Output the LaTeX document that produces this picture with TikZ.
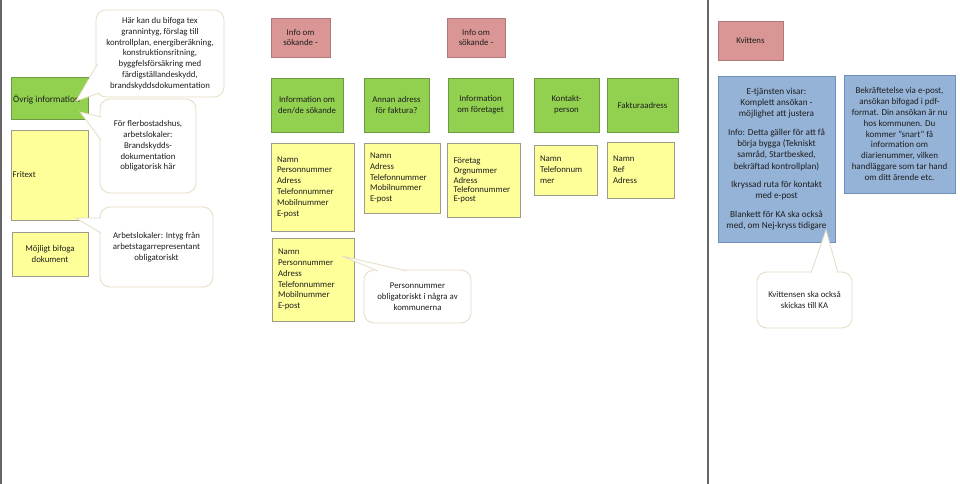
\documentclass[tikz,border=0pt]{standalone}
\usepackage{fontspec}
\setmainfont{Carlito}
\definecolor{gfill}{HTML}{92D050}
\definecolor{gline}{HTML}{6F9A45}
\definecolor{pfill}{HTML}{D99694}
\definecolor{pline}{HTML}{B07A78}
\definecolor{yfill}{HTML}{FFFF99}
\definecolor{yline}{HTML}{9C9C8C}
\definecolor{bfill}{HTML}{95B3D7}
\definecolor{bline}{HTML}{7090BA}
\definecolor{cline}{HTML}{E6DCC4}
\definecolor{vlcol}{HTML}{666666}
\definecolor{txt}{HTML}{1E1E1E}
\tikzset{
  basebox/.style={draw, line width=0.8pt, inner sep=0pt, text=txt,
    font=\fontsize{8.8}{10.8}\selectfont, align=center},
  gbox/.style={basebox, fill=gfill, draw=gline},
  pbox/.style={basebox, fill=pfill, draw=pline},
  ybox/.style={basebox, fill=yfill, draw=yline},
  listbox/.style={ybox, align=left, inner xsep=6pt},
  bluebox/.style={basebox, fill=bfill, draw=bline, font=\fontsize{9.2}{11.2}\selectfont},
  cbox/.style={basebox, fill=white, draw=cline, rounded corners=10pt},
  tailfill/.style={fill=white},
  tailline/.style={draw=cline, line width=0.8pt},
  vl/.style={draw=vlcol, line width=2pt},
  plain/.style={inner sep=0pt, text=txt, font=\fontsize{8.8}{10.8}\selectfont}
}
\begin{document}
\begin{tikzpicture}[x=1pt,y=-1pt]
\useasboundingbox (0,0) rectangle (960,484);
\fill[white] (0,0) rectangle (960,484);

% vertical separators
\draw[vl] (1,0) -- (1,484);
\draw[vl] (708,0) -- (708,484);

% left column
\node[gbox, minimum width=77pt, minimum height=42pt] (ovrig) at (49.5,98) {};
\node[plain, anchor=west, font=\fontsize{9.3}{11}\selectfont] (ovrigtxt) at (13,100) {Övrig information};
\node[ybox, minimum width=77pt, minimum height=90pt] (fritext) at (49.5,175) {};
\node[plain, anchor=west] (fritexttxt) at (12.5,175) {Fritext};
\node[ybox, minimum width=76pt, minimum height=44pt] (mojligt) at (50,254) {Möjligt bifoga\\dokument};

% callout 1
\node[cbox, minimum width=128pt, minimum height=87pt] (c1) at (160,53.5)
  {Här kan du bifoga tex\\grannintyg, förslag till\\kontrollplan, energiberäkning,\\konstruktionsritning,\\byggfelsförsäkring med\\färdigställandeskydd,\\brandskyddsdokumentation};
\coordinate (c1tip) at (76,101);
\coordinate (c1a) at (97.5,64);
\coordinate (c1b) at (99.5,93);
\fill[tailfill] (c1a) -- (c1tip) -- (c1b) -- cycle;
\draw[tailline] (c1a) -- (c1tip) -- (c1b);

% callout 2
\node[cbox, minimum width=96pt, minimum height=94pt] (c2) at (148,146)
  {För flerbostadshus,\\arbetslokaler:\\Brandskydds-\\dokumentation\\obligatorisk här};
\coordinate (c2tip) at (80,112);
\coordinate (c2a) at (101,117);
\coordinate (c2b) at (101,140);
\fill[tailfill] (c2a) -- (c2tip) -- (c2b) -- cycle;
\draw[tailline] (c2a) -- (c2tip) -- (c2b);

% callout 3
\node[cbox, minimum width=113pt, minimum height=80pt] (c3) at (156.5,247)
  {Arbetslokaler: Intyg från\\arbetstagarrepresentant\\obligatoriskt};
\coordinate (c3tip) at (76,218);
\coordinate (c3a) at (101,218);
\coordinate (c3b) at (101,233);
\fill[tailfill] (c3a) -- (c3tip) -- (c3b) -- cycle;
\draw[tailline] (c3a) -- (c3tip) -- (c3b);

% middle: headers
\node[pbox, minimum width=59pt, minimum height=39pt] (p1) at (300.5,37.5) {Info om\\sökande -};
\node[pbox, minimum width=58pt, minimum height=39pt] (p2) at (476,37.5) {Info om\\sökande -};

\node[gbox, minimum width=72pt, minimum height=54pt] (g1) at (307,105) {Information om\\den/de sökande};
\node[gbox, minimum width=65pt, minimum height=54pt] (g2) at (396.5,105) {Annan adress\\för faktura?};
\node[gbox, minimum width=65pt, minimum height=54pt] (g3) at (480.5,105) {Information\\om företaget};
\node[gbox, minimum width=65pt, minimum height=54pt] (g4) at (566.5,105) {Kontakt-\\person};
\node[gbox, minimum width=71pt, minimum height=54pt] (g5) at (642.5,105) {Fakturaadress};

% yellow lists
\node[listbox, text width=71pt, minimum height=88pt] (y1) at (312.5,187)
  {Namn\\Personnummer\\Adress\\Telefonnummer\\Mobilnummer\\E-post};
\node[listbox, text width=64pt, minimum height=70pt] (y2) at (402,178)
  {Namn\\Adress\\Telefonnummer\\Mobilnummer\\E-post};
\node[listbox, text width=60pt, inner xsep=6.5pt, minimum height=74pt, font=\fontsize{8.8}{9.2}\selectfont] (y3) at (483.5,180)
  {Företag\\[1.6pt]Orgnummer\\Adress\\Telefonnummer\\E-post};
\node[listbox, text width=51pt, minimum height=50pt] (y4) at (565.5,170)
  {Namn\\Telefonnum\\mer};
\node[listbox, text width=55pt, minimum height=56pt] (y5) at (640.5,170)
  {Namn\\Ref\\Adress};
\node[listbox, text width=70pt, minimum height=83pt] (y6) at (313,279.5)
  {Namn\\Personnummer\\Adress\\Telefonnummer\\Mobilnummer\\E-post};

% callout 4
\node[cbox, minimum width=107pt, minimum height=53pt] (c4) at (417.5,296.5)
  {Personnummer\\obligatoriskt i några av\\kommunerna};
\coordinate (c4tip) at (342,256);
\coordinate (c4a) at (378,271);
\coordinate (c4b) at (407,271);
\fill[tailfill] (c4a) -- (c4tip) -- (c4b) -- cycle;
\draw[tailline] (c4a) -- (c4tip) -- (c4b);

% right column
\node[pbox, minimum width=65pt, minimum height=39pt] (kv) at (750.5,40.5) {Kvittens};
\node[bluebox, minimum width=117pt, minimum height=166pt] (b1) at (776.5,159)
  {E-tjänsten visar:\\Komplett ansökan -\\möjlighet att justera\\[7.5pt]
   Info: Detta gäller för att få\\börja bygga (Tekniskt\\samråd, Startbesked,\\bekräftad kontrollplan)\\[7.5pt]
   Ikryssad ruta för kontakt\\med e-post\\[7pt]
   Blankett för KA ska också\\med, om Nej-kryss tidigare};
\node[bluebox, minimum width=111pt, minimum height=118pt, font=\fontsize{9}{10.8}\selectfont] (b2) at (899.5,134)
  {Bekräftetelse via e-post,\\ansökan bifogad i pdf-\\format. Din ansökan är nu\\hos kommunen. Du\\kommer "snart" få\\information om\\diarienummer, vilken\\handläggare som tar hand\\om ditt ärende etc.};

% callout 5
\node[cbox, minimum width=95pt, minimum height=56pt] (c5) at (804.5,300)
  {Kvittensen ska också\\skickas till KA};
\coordinate (c5tip) at (826,230);
\coordinate (c5a) at (811,273);
\coordinate (c5b) at (838,273);
\fill[tailfill] (c5a) -- (c5tip) -- (c5b) -- cycle;
\draw[tailline] (c5a) -- (c5tip) -- (c5b);
\end{tikzpicture}
\end{document}
